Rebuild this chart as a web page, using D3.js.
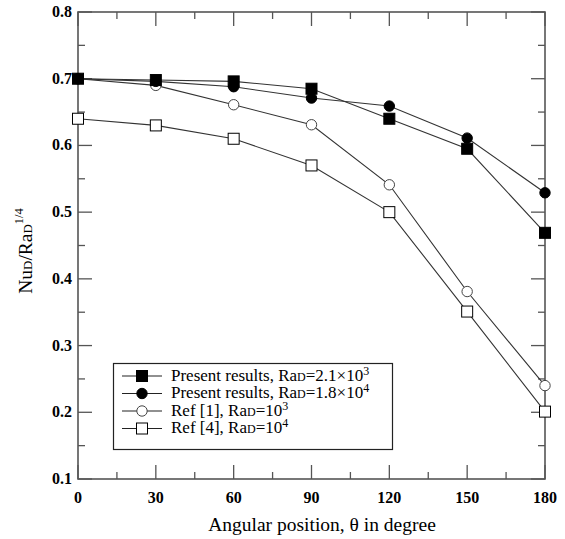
<!DOCTYPE html>
<html><head><meta charset="utf-8">
<script src="https://cdn.jsdelivr.net/npm/d3@7"></script>
<style>body{margin:0;background:#fff}svg{display:block}</style>
</head><body><svg id="c" width="565" height="539" font-family="'Liberation Serif', 'Times New Roman', Times, 'DejaVu Serif', serif"></svg>
<script>
const angles = [0, 30, 60, 90, 120, 150, 180];
const presentRa21e3 = [0.700, 0.698, 0.696, 0.685, 0.640, 0.595, 0.469];
const presentRa18e4 = [0.700, 0.696, 0.688, 0.671, 0.659, 0.611, 0.529];
const ref1Ra1e3 = [0.700, 0.690, 0.661, 0.631, 0.541, 0.381, 0.240];
const ref4Ra1e4 = [0.640, 0.630, 0.610, 0.570, 0.500, 0.351, 0.201];
const xTicks = [0, 30, 60, 90, 120, 150, 180];
const yTicks = [0.1, 0.2, 0.3, 0.4, 0.5, 0.6, 0.7, 0.8];

const series = [
  {vals: presentRa21e3, sym: "square", fill: "#000", label: [["Present results, Ra",""],["D","sub"],["=2.1×10",""],["3","sup"]]},
  {vals: presentRa18e4, sym: "circle", fill: "#000", label: [["Present results, Ra",""],["D","sub"],["=1.8×10",""],["4","sup"]]},
  {vals: ref1Ra1e3, sym: "circle", fill: "#fff", label: [["Ref [1], Ra",""],["D","sub"],["=10",""],["3","sup"]]},
  {vals: ref4Ra1e4, sym: "square", fill: "#fff", label: [["Ref [4], Ra",""],["D","sub"],["=10",""],["4","sup"]]}
];

const svg = d3.select("#c");
const L = 78, R = 545, T = 12, B = 479;
const x = d3.scaleLinear().domain([0, 180]).range([L, R]);
const y = d3.scaleLinear().domain([0.1, 0.8]).range([B, T]);
const axisCol = "#555";

const xMinor = d3.range(15, 180, 30);
const yMinor = d3.range(0.15, 0.8, 0.1);
const g = svg.append("g").attr("stroke", axisCol).attr("stroke-width", 1.3);
xTicks.forEach(v => {
  g.append("line").attr("x1", x(v)).attr("x2", x(v)).attr("y1", B).attr("y2", B - 14);
  g.append("line").attr("x1", x(v)).attr("x2", x(v)).attr("y1", T).attr("y2", T + 14);
});
xMinor.forEach(v => {
  g.append("line").attr("x1", x(v)).attr("x2", x(v)).attr("y1", B).attr("y2", B - 7);
  g.append("line").attr("x1", x(v)).attr("x2", x(v)).attr("y1", T).attr("y2", T + 7);
});
yTicks.forEach(v => {
  g.append("line").attr("x1", L).attr("x2", L + 14).attr("y1", y(v)).attr("y2", y(v));
  g.append("line").attr("x1", R).attr("x2", R - 14).attr("y1", y(v)).attr("y2", y(v));
});
yMinor.forEach(v => {
  g.append("line").attr("x1", L).attr("x2", L + 7).attr("y1", y(v)).attr("y2", y(v));
  g.append("line").attr("x1", R).attr("x2", R - 7).attr("y1", y(v)).attr("y2", y(v));
});
svg.append("rect").attr("x", L).attr("y", T).attr("width", R - L).attr("height", B - T)
  .attr("fill", "none").attr("stroke", axisCol).attr("stroke-width", 1.6);

svg.append("g").selectAll("text").data(xTicks).join("text")
  .attr("x", d => x(d)).attr("y", B + 24).attr("text-anchor", "middle")
  .attr("font-size", 16).attr("font-weight", "bold").text(d => d);
svg.append("g").selectAll("text").data(yTicks).join("text")
  .attr("x", L - 6).attr("y", d => y(d) + 5).attr("text-anchor", "end")
  .attr("font-size", 16).attr("font-weight", "bold").text(d => d.toFixed(1));

svg.append("text").attr("x", 322).attr("y", 531).attr("text-anchor", "middle")
  .attr("font-size", 19.5).text("Angular position, θ in degree");
const yl = svg.append("text").attr("transform", "translate(32,251) rotate(-90)")
  .attr("text-anchor", "middle").attr("font-size", 19.5);
yl.append("tspan").text("Nu");
yl.append("tspan").attr("font-size", 13).text("D");
yl.append("tspan").text("/Ra");
yl.append("tspan").attr("font-size", 13).text("D");
yl.append("tspan").attr("font-size", 12.5).attr("dy", -9).text("1/4");

const line = d3.line().x((d, i) => x(angles[i])).y(d => y(d));
function drawSym(sel, s, cx, cy) {
  if (s.sym === "square") {
    sel.append("rect").attr("x", cx - 5.5).attr("y", cy - 5.5).attr("width", 11).attr("height", 11)
      .attr("fill", s.fill).attr("stroke", "#000").attr("stroke-width", 1);
  } else {
    sel.append("circle").attr("cx", cx).attr("cy", cy).attr("r", 5.2)
      .attr("fill", s.fill).attr("stroke", s.fill === "#000" ? "#000" : "#444").attr("stroke-width", 1);
  }
}
series.forEach(s => {
  svg.append("path").attr("d", line(s.vals)).attr("fill", "none").attr("stroke", "#333").attr("stroke-width", 1.1);
});
series.slice().reverse().forEach(s => {
  const gg = svg.append("g");
  s.vals.forEach((v, i) => drawSym(gg, s, x(angles[i]), y(v)));
});

svg.append("rect").attr("x", 113.5).attr("y", 363.5).attr("width", 279).attr("height", 86)
  .attr("fill", "#fff").attr("stroke", "#222").attr("stroke-width", 1.2);
series.forEach((s, i) => {
  const ly = 376 + i * 17.5;
  svg.append("line").attr("x1", 122).attr("x2", 162).attr("y1", ly).attr("y2", ly)
    .attr("stroke", "#222").attr("stroke-width", 1.1);
  const gg = svg.append("g");
  drawSym(gg, {sym: s.sym, fill: s.fill}, 142, ly);
  const t = svg.append("text").attr("x", 171).attr("y", ly + 4.5).attr("font-size", 17);
  s.label.forEach(([txt, kind]) => {
    const ts = t.append("tspan").text(txt);
    if (kind === "sub") ts.attr("font-size", 12);
    if (kind === "sup") ts.attr("font-size", 12).attr("dy", -6);
  });
});
</script></body></html>
